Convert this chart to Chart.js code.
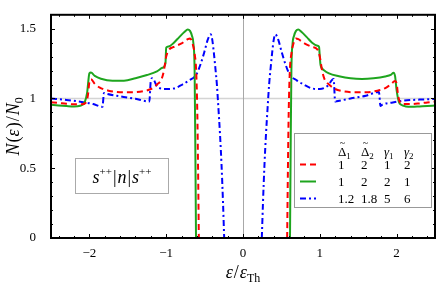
<!DOCTYPE html>
<html lang="en">
<head>
    <meta charset="UTF-8">
    <title>N(ε)/N0 vs ε/εTh</title>
    <script src="https://cdn.jsdelivr.net/npm/chart.js"></script>
    <style>
        html, body {
            margin: 0;
            padding: 0;
            background: #fff;
        }
        .chart-box {
            position: relative;
            width: 437px;
            height: 283px;
        }
    </style>
</head>
<body>
    <div class="chart-box">
        <canvas id="dosChart"></canvas>
    </div>

    <script>
        // x = ε/εTh, y = N(ε)/N0
        const redX = [-2.5, -2.4, -2.3, -2.2, -2.1, -2.05, -2.02, -2.0, -1.98, -1.93, -1.87, -1.75, -1.6, -1.45, -1.3, -1.2, -1.12, -1.06, -1.03, -1.0, -0.97, -0.9, -0.8, -0.72, -0.69, -0.66, -0.63, -0.61, -0.595, -0.585, -0.575,
            0,
            0.575, 0.585, 0.595, 0.61, 0.63, 0.66, 0.69, 0.72, 0.8, 0.9, 0.97, 1.0, 1.03, 1.06, 1.12, 1.2, 1.3, 1.45, 1.6, 1.75, 1.87, 1.93, 1.98, 2.0, 2.02, 2.05, 2.1, 2.2, 2.3, 2.4, 2.5];
        const redY = [0.973, 0.968, 0.962, 0.958, 0.958, 0.968, 1.02, 1.12, 1.138, 1.105, 1.08, 1.056, 1.045, 1.045, 1.052, 1.068, 1.10, 1.14, 1.2, 1.3, 1.345, 1.37, 1.395, 1.425, 1.43, 1.40, 1.32, 1.2, 0.9, 0.5, 0,
            null,
            0, 0.5, 0.9, 1.2, 1.32, 1.40, 1.43, 1.425, 1.395, 1.37, 1.35, 1.3, 1.2, 1.14, 1.10, 1.068, 1.052, 1.045, 1.045, 1.056, 1.08, 1.105, 1.125, 1.11, 1.02, 0.968, 0.96, 0.96, 0.965, 0.972, 0.978];

        const greenX = [-2.5, -2.4, -2.3, -2.2, -2.12, -2.06, -2.03, -2.0, -1.98, -1.93, -1.85, -1.7, -1.55, -1.4, -1.25, -1.12, -1.05, -1.01, -1.0, -0.97, -0.9, -0.83, -0.76, -0.72, -0.69, -0.665, -0.645, -0.63, -0.62, -0.612,
            0,
            0.612, 0.62, 0.63, 0.645, 0.665, 0.69, 0.72, 0.76, 0.83, 0.9, 0.97, 0.99, 1.0, 1.01, 1.05, 1.12, 1.25, 1.4, 1.55, 1.7, 1.85, 1.93, 1.96, 1.98, 2.0, 2.03, 2.06, 2.12, 2.2, 2.3, 2.4, 2.5];
        const greenY = [0.955, 0.95, 0.946, 0.943, 0.948, 0.975, 1.04, 1.18, 1.186, 1.162, 1.142, 1.128, 1.128, 1.145, 1.168, 1.195, 1.22, 1.25, 1.365, 1.372, 1.40, 1.44, 1.478, 1.495, 1.485, 1.45, 1.39, 1.2, 0.6, 0,
            null,
            0, 0.6, 1.2, 1.39, 1.45, 1.485, 1.495, 1.478, 1.44, 1.40, 1.378, 1.37, 1.30, 1.24, 1.205, 1.18, 1.16, 1.145, 1.14, 1.145, 1.158, 1.172, 1.185, 1.16, 1.06, 0.975, 0.955, 0.943, 0.94, 0.943, 0.946, 0.95];

        const blueX = [-2.5, -2.3, -2.1, -1.95, -1.83, -1.81, -1.78, -1.6, -1.4, -1.22, -1.2, -1.18, -1.11, -1.0, -0.9, -0.79, -0.7, -0.61, -0.55, -0.5, -0.46, -0.42, -0.40, -0.38, -0.36, -0.34, -0.32, -0.30, -0.28, -0.26, -0.245,
            0,
            0.245, 0.26, 0.28, 0.30, 0.32, 0.34, 0.36, 0.38, 0.40, 0.42, 0.46, 0.5, 0.55, 0.61, 0.7, 0.79, 0.9, 1.0, 1.1, 1.18, 1.2, 1.22, 1.4, 1.6, 1.77, 1.79, 1.81, 1.95, 2.1, 2.3, 2.5];
        const blueY = [1.0, 0.99, 0.975, 0.96, 0.94, 1.04, 1.034, 1.015, 0.998, 0.978, 1.13, 1.146, 1.08, 1.068, 1.072, 1.10, 1.13, 1.17, 1.25, 1.34, 1.42, 1.46, 1.42, 1.33, 1.22, 1.10, 0.93, 0.75, 0.53, 0.25, 0,
            null,
            0, 0.25, 0.53, 0.75, 0.93, 1.10, 1.22, 1.33, 1.42, 1.46, 1.42, 1.34, 1.25, 1.17, 1.13, 1.10, 1.072, 1.068, 1.09, 1.14, 0.978, 0.98, 1.0, 1.02, 1.047, 0.946, 0.955, 0.972, 0.985, 0.992, 0.997];

        const xTickValues = [-2, -1, 0, 1, 2];
        const yTickValues = [0, 0.5, 1, 1.5];

        // legend table: Δ̃1, Δ̃2, γ1, γ2 for each curve
        const delta1 = ['1', '1', '1.2'];
        const delta2 = ['2', '2', '1.8'];
        const gamma1 = ['1', '2', '5'];
        const gamma2 = ['2', '1', '6'];

        const serif = '"Liberation Serif", "Times New Roman", serif';

        function points(xs, ys) {
            return xs.map((x, i) => ({ x: x, y: ys[i] }));
        }

        // draw a row of text pieces centred on cx
        function drawRuns(ctx, runs, cx, baseY) {
            let total = 0;
            runs.forEach(r => {
                ctx.font = r.font;
                r.w = ctx.measureText(r.t).width;
                total += r.w + (r.gap || 0);
            });
            let x = cx - total / 2;
            runs.forEach(r => {
                ctx.font = r.font;
                ctx.fillText(r.t, x, baseY + (r.dy || 0));
                x += r.w + (r.gap || 0);
            });
        }

        const refLines = {
            id: 'refLines',
            beforeDatasetsDraw(chart) {
                const { ctx, chartArea: a, scales: { x, y } } = chart;
                ctx.save();
                ctx.strokeStyle = '#d4d4d4';
                ctx.lineWidth = 1.5;
                ctx.beginPath();
                ctx.moveTo(a.left, y.getPixelForValue(1));
                ctx.lineTo(a.right, y.getPixelForValue(1));
                ctx.stroke();
                ctx.strokeStyle = '#a8a8a8';
                ctx.lineWidth = 1;
                const x0 = Math.round(x.getPixelForValue(0)) + 0.5;
                ctx.beginPath();
                ctx.moveTo(x0, a.top);
                ctx.lineTo(x0, a.bottom);
                ctx.stroke();
                ctx.restore();
            }
        };

        const frameAndText = {
            id: 'frameAndText',
            afterDraw(chart) {
                const { ctx, chartArea: a, scales: { x, y } } = chart;
                ctx.save();

                // inward frame ticks
                ctx.strokeStyle = '#000';
                ctx.lineWidth = 1;
                ctx.beginPath();
                for (let i = -12; i <= 12; i++) {
                    const px = Math.round(x.getPixelForValue(i * 0.2)) + 0.5;
                    const len = i % 5 === 0 ? 4 : 2;
                    ctx.moveTo(px, a.bottom); ctx.lineTo(px, a.bottom - len);
                    ctx.moveTo(px, a.top); ctx.lineTo(px, a.top + len);
                }
                for (let i = 1; i <= 15; i++) {
                    const py = Math.round(y.getPixelForValue(i * 0.1)) + 0.5;
                    const len = i % 5 === 0 ? 4 : 2;
                    ctx.moveTo(a.left, py); ctx.lineTo(a.left + len, py);
                    ctx.moveTo(a.right, py); ctx.lineTo(a.right - len, py);
                }
                ctx.stroke();

                // frame
                ctx.lineWidth = 2;
                ctx.strokeRect(a.left, a.top, a.right - a.left, a.bottom - a.top);

                ctx.fillStyle = '#000';
                ctx.textBaseline = 'alphabetic';
                ctx.textAlign = 'left';

                // x title: ε/εTh
                drawRuns(ctx, [
                    { t: 'ε', font: 'italic 18px ' + serif, gap: 1 },
                    { t: '/', font: '18px ' + serif, gap: 1 },
                    { t: 'ε', font: 'italic 18px ' + serif },
                    { t: 'Th', font: '12px ' + serif, dy: 4 }
                ], x.getPixelForValue(0), 278);

                // y title: N(ε)/N0
                ctx.save();
                ctx.translate(19, (a.top + a.bottom) / 2);
                ctx.rotate(-Math.PI / 2);
                drawRuns(ctx, [
                    { t: 'N', font: 'italic 18px ' + serif, gap: 1 },
                    { t: '(', font: '18px ' + serif },
                    { t: 'ε', font: 'italic 18px ' + serif, gap: 1 },
                    { t: ')', font: '18px ' + serif, gap: 1 },
                    { t: '/', font: '18px ' + serif, gap: 1 },
                    { t: 'N', font: 'italic 18px ' + serif },
                    { t: '0', font: '12px ' + serif, dy: 4 }
                ], 0, 0);
                ctx.restore();

                // inset label box
                ctx.fillStyle = '#fff';
                ctx.fillRect(75, 158, 93, 35);
                ctx.strokeStyle = '#aaa';
                ctx.lineWidth = 1;
                ctx.strokeRect(75.5, 158.5, 93, 35);
                ctx.fillStyle = '#000';
                drawRuns(ctx, [
                    { t: 's', font: 'italic 18px ' + serif },
                    { t: '++', font: '11px ' + serif, dy: -8, gap: 1 },
                    { t: '|', font: '18px ' + serif, gap: 1 },
                    { t: 'n', font: 'italic 18px ' + serif, gap: 1 },
                    { t: '|', font: '18px ' + serif, gap: 1 },
                    { t: 's', font: 'italic 18px ' + serif },
                    { t: '++', font: '11px ' + serif, dy: -8 }
                ], 122, 183);

                // legend table
                const lx = 294, ly = 133, lw = 137, lh = 74;
                ctx.fillStyle = '#fff';
                ctx.fillRect(lx, ly, lw, lh);
                ctx.strokeStyle = '#999';
                ctx.strokeRect(lx + 0.5, ly + 0.5, lw, lh);

                const colX = [338, 361, 384, 404];
                const heads = [['Δ', '1'], ['Δ', '2'], ['γ', '1'], ['γ', '2']];
                ctx.fillStyle = '#000';
                heads.forEach((h, i) => {
                    const greek = h[0] === 'γ';
                    ctx.font = (greek ? 'italic ' : '') + '13px ' + serif;
                    ctx.fillText(h[0], colX[i], 156);
                    const w = ctx.measureText(h[0]).width;
                    if (!greek) {
                        ctx.font = '10px ' + serif;
                        ctx.fillText('~', colX[i] + w / 2 - 2.5, 146);
                    }
                    ctx.font = '9px ' + serif;
                    ctx.fillText(h[1], colX[i] + w, 159);
                });

                const rowY = [169, 186, 203];
                chart.data.datasets.forEach((ds, r) => {
                    const sy = rowY[r] - 4.5;
                    ctx.save();
                    ctx.strokeStyle = ds.borderColor;
                    ctx.lineWidth = ds.borderWidth;
                    ctx.setLineDash(ds.borderDash || []);
                    ctx.beginPath();
                    ctx.moveTo(300, sy);
                    ctx.lineTo(316, sy);
                    ctx.stroke();
                    ctx.restore();
                    ctx.font = '13px ' + serif;
                    [delta1[r], delta2[r], gamma1[r], gamma2[r]].forEach((v, i) => {
                        ctx.fillText(v, colX[i], rowY[r]);
                    });
                });

                ctx.restore();
            }
        };

        const config = {
            type: 'line',
            data: {
                datasets: [
                    {
                        label: 'Δ̃1=1, Δ̃2=2, γ1=1, γ2=2',
                        data: points(redX, redY),
                        borderColor: 'rgb(255, 0, 0)',
                        borderWidth: 2,
                        borderDash: [6, 4],
                        pointRadius: 0,
                        cubicInterpolationMode: 'monotone',
                        spanGaps: false
                    },
                    {
                        label: 'Δ̃1=1, Δ̃2=2, γ1=2, γ2=1',
                        data: points(greenX, greenY),
                        borderColor: 'rgb(30, 165, 30)',
                        borderWidth: 2,
                        pointRadius: 0,
                        cubicInterpolationMode: 'monotone',
                        spanGaps: false
                    },
                    {
                        label: 'Δ̃1=1.2, Δ̃2=1.8, γ1=5, γ2=6',
                        data: points(blueX, blueY),
                        borderColor: 'rgb(0, 0, 255)',
                        borderWidth: 2,
                        borderDash: [6, 3, 2, 3],
                        pointRadius: 0,
                        cubicInterpolationMode: 'monotone',
                        spanGaps: false
                    }
                ]
            },
            options: {
                responsive: true,
                maintainAspectRatio: false,
                animation: false,
                layout: { padding: { top: 1, right: 2, left: 0, bottom: 0 } },
                plugins: {
                    legend: { display: false },
                    tooltip: { enabled: false }
                },
                scales: {
                    x: {
                        type: 'linear',
                        min: -2.5,
                        max: 2.5,
                        afterBuildTicks: s => { s.ticks = xTickValues.map(v => ({ value: v })); },
                        afterFit: s => { s.height = 45; },
                        grid: { display: false },
                        border: { display: false },
                        ticks: {
                            color: '#000',
                            padding: 0,
                            maxRotation: 0,
                            autoSkip: false,
                            font: { family: serif, size: 13 },
                            callback: v => v < 0 ? '\u2212' + Math.abs(v) : String(v)
                        }
                    },
                    y: {
                        min: 0,
                        max: 1.6,
                        afterBuildTicks: s => { s.ticks = yTickValues.map(v => ({ value: v })); },
                        afterFit: s => { s.width = 51; },
                        grid: { display: false },
                        border: { display: false },
                        ticks: {
                            color: '#000',
                            padding: 7,
                            font: { family: serif, size: 13 },
                            callback: v => String(v)
                        }
                    }
                }
            },
            plugins: [refLines, frameAndText]
        };

        var dosChart = new Chart(document.getElementById('dosChart'), config);
    </script>
</body>
</html>
